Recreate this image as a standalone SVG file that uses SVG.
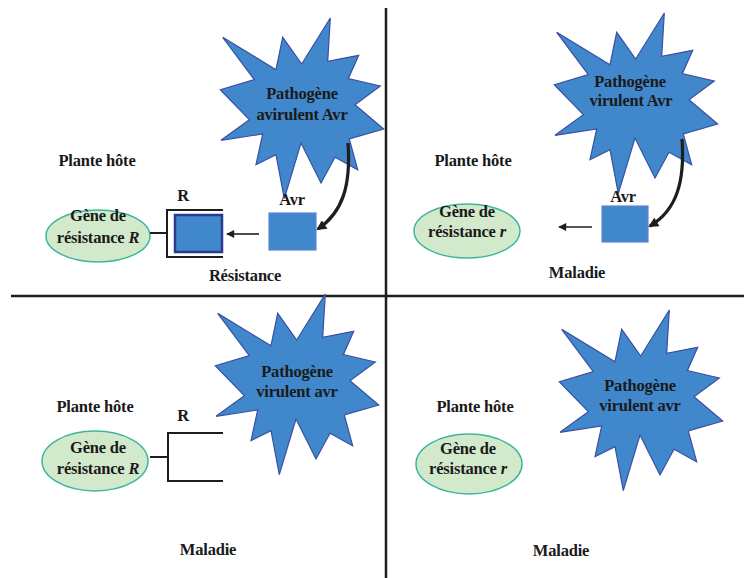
<svg xmlns="http://www.w3.org/2000/svg" width="744" height="578" viewBox="0 0 744 578">
<defs>
<style>
text{font-family:"Liberation Serif","Times New Roman",serif;font-weight:bold;font-size:16.5px;fill:#1a1a1a;text-anchor:middle;letter-spacing:-0.2px}
.star{fill:#4088cb;stroke:#3a4fa3;stroke-width:1.2}
.gene{fill:#d3e9cc;stroke:#3db79a;stroke-width:1.5}
.avr{fill:#4088cb;stroke:#5f86d2;stroke-width:1.2}
.rbox{fill:#4088cb;stroke:#2b3a8f;stroke-width:2.5}
.line{stroke:#1e1e1e;fill:none}
.div{stroke:#1e1e1e;stroke-width:2.5}
</style>
<path id="starShape" d="M-77.3,-72.7 L-24,-40.3 L-17.3,-72.7 L1.7,-46 L30.3,-92 L27.7,-48.7 L58.7,-54.7 L48.3,-31.3 L80.3,-24 L55,-5.3 L83.7,19 L49.3,29 L57.7,59.7 L35,47.3 L21,73 L1,33 L-15.7,88.7 L-24,44.7 L-44,54.7 L-37.3,24 L-79,30.3 L-50.7,9.7 L-79.7,-20.3 L-45.7,-30.3 Z"/>
<marker id="small" viewBox="0 0 10 10" refX="9" refY="5" markerWidth="10" markerHeight="8" markerUnits="userSpaceOnUse" orient="auto">
<path d="M0,0 L10,5 L0,10 Z" fill="#1e1e1e"/>
</marker>
<marker id="big" viewBox="0 0 10 10" refX="8" refY="5" markerWidth="11" markerHeight="10" markerUnits="userSpaceOnUse" orient="auto">
<path d="M0,0 L10,5 L0,10 Z" fill="#1e1e1e"/>
</marker>
</defs>
<rect width="744" height="578" fill="#ffffff"/>

<g id="dividers">
<line class="div" x1="386" y1="8" x2="386" y2="578"/>
<line class="div" x1="11" y1="296" x2="744" y2="296"/>
</g>

<g id="q1-pathogen">
<use href="#starShape" class="star" transform="translate(300,110)"/>
<text x="302" y="99">Pathogène</text>
<text x="302" y="120">avirulent Avr</text>
</g>
<g id="q1-plant"><text x="97" y="166">Plante hôte</text></g>
<g id="q1-gene">
<ellipse class="gene" cx="98" cy="236" rx="52" ry="26"/>
<text x="98" y="221">Gène de</text>
<text x="98" y="243">résistance <tspan font-style="italic">R</tspan></text>
</g>
<g id="q1-receptor">
<text x="183" y="201">R</text>
<path class="line" stroke-width="2" d="M223,210 H167 V257 H223"/>
<rect class="rbox" x="175" y="215" width="47" height="37"/>
</g>
<g id="q1-avr">
<text x="292" y="205">Avr</text>
<rect class="avr" x="269" y="213" width="47" height="37"/>
</g>
<g id="q1-result"><text x="245" y="281">Résistance</text></g>

<g id="q2-pathogen">
<use href="#starShape" class="star" transform="translate(634,105)"/>
<text x="630" y="87">Pathogène</text>
<text x="631" y="106">virulent Avr</text>
</g>
<g id="q2-plant"><text x="473" y="166">Plante hôte</text></g>
<g id="q2-gene">
<ellipse class="gene" cx="467" cy="231" rx="53" ry="27"/>
<text x="467" y="217">Gène de</text>
<text x="467" y="237">résistance <tspan font-style="italic">r</tspan></text>
</g>
<g id="q2-avr">
<text x="623" y="202">Avr</text>
<rect class="avr" x="602" y="206" width="46" height="36"/>
</g>
<g id="q2-result"><text x="577" y="278">Maladie</text></g>

<g id="q3-pathogen">
<use href="#starShape" class="star" transform="translate(295,386)"/>
<text x="297" y="377">Pathogène</text>
<text x="297" y="397">virulent avr</text>
</g>
<g id="q3-plant"><text x="95" y="412">Plante hôte</text></g>
<g id="q3-gene">
<ellipse class="gene" cx="95" cy="461" rx="53" ry="30"/>
<text x="98" y="453">Gène de</text>
<text x="98" y="474">résistance <tspan font-style="italic">R</tspan></text>
</g>
<g id="q3-receptor">
<text x="183" y="421">R</text>
<path class="line" stroke-width="2" d="M223,433 H168 V481 H223"/>
</g>
<g id="q3-result"><text x="208" y="555">Maladie</text></g>

<g id="q4-pathogen">
<use href="#starShape" class="star" transform="translate(639,402)"/>
<text x="640" y="391">Pathogène</text>
<text x="640" y="411">virulent avr</text>
</g>
<g id="q4-plant"><text x="475" y="412">Plante hôte</text></g>
<g id="q4-gene">
<ellipse class="gene" cx="469" cy="464" rx="53" ry="30"/>
<text x="468" y="454">Gène de</text>
<text x="468" y="474">résistance <tspan font-style="italic">r</tspan></text>
</g>
<g id="q4-result"><text x="561" y="556">Maladie</text></g>

<g id="connectors">
<path class="line" stroke-width="3.2" d="M348,143 C351,185 343,212 318,229" marker-end="url(#big)"/>
<path class="line" stroke-width="3.2" d="M682,139 C685,181 677,210 650,226" marker-end="url(#big)"/>
<line class="line" stroke-width="1.6" x1="259" y1="234" x2="227" y2="234" marker-end="url(#small)"/>
<line class="line" stroke-width="1.6" x1="592" y1="227" x2="559" y2="227" marker-end="url(#small)"/>
<line class="line" stroke-width="2" x1="150" y1="233" x2="167" y2="233"/>
<line class="line" stroke-width="2" x1="150" y1="457" x2="168" y2="457"/>
</g>
</svg>
